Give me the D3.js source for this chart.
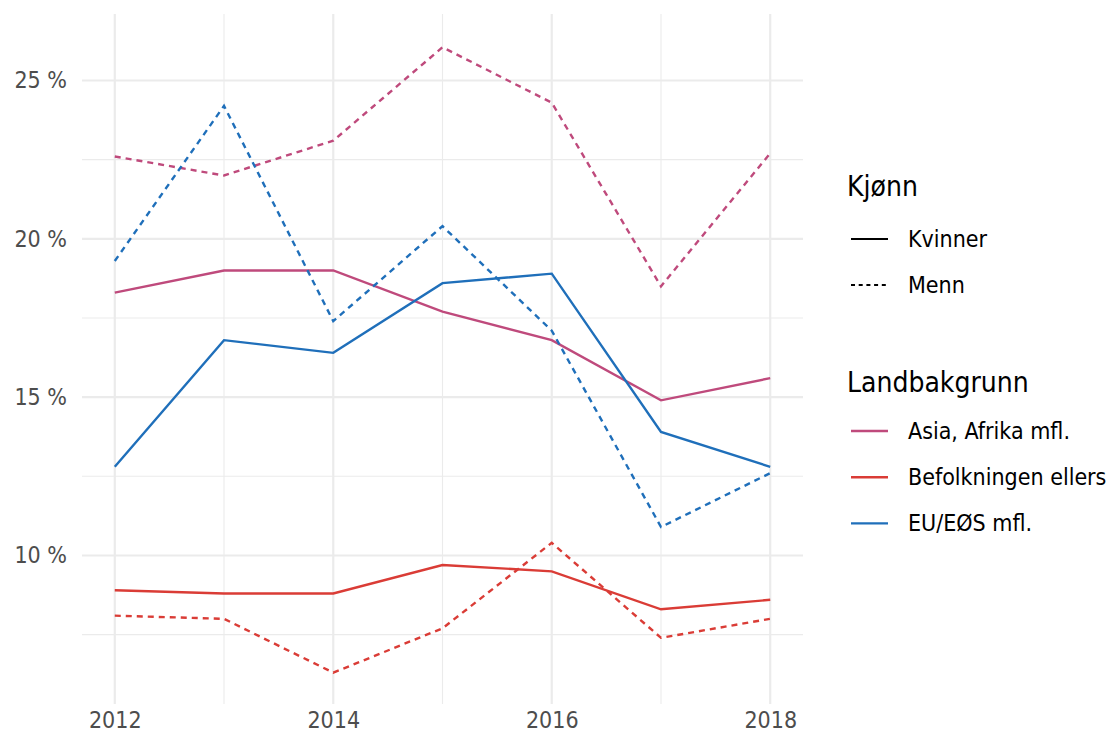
<!DOCTYPE html>
<html>
<head>
<meta charset="utf-8">
<script src="https://cdn.jsdelivr.net/npm/d3@7"></script>
<style>
  body { margin: 0; background: #fff; }
  text { font-family: "DejaVu Sans Condensed", "DejaVu Sans", Verdana, sans-serif; }
</style>
</head>
<body>
<script>
const years = [2012, 2013, 2014, 2015, 2016, 2017, 2018];

const asiaKvinner = [18.3, 19.0, 19.0, 17.7, 16.8, 14.9, 15.6];
const asiaMenn = [22.6, 22.0, 23.1, 26.05, 24.3, 18.5, 22.7];
const euKvinner = [12.8, 16.8, 16.4, 18.6, 18.9, 13.9, 12.8];
const euMenn = [19.3, 24.2, 17.4, 20.4, 17.1, 10.9, 12.6];
const befKvinner = [8.9, 8.8, 8.8, 9.7, 9.5, 8.3, 8.6];
const befMenn = [8.1, 8.0, 6.3, 7.7, 10.4, 7.4, 8.0];

const groups = ["Asia, Afrika mfl.", "Befolkningen ellers", "EU/EØS mfl."];
const colors = ["#bf4a7c", "#da3c36", "#1f6fba"];
const genders = ["Kvinner", "Menn"];

const xTicks = [2012, 2014, 2016, 2018];
const xMinor = [2013, 2015, 2017];
const yTicks = [10, 15, 20, 25];
const yMinor = [7.5, 12.5, 17.5, 22.5];

const series = [
  { group: groups[0], gender: genders[0], values: asiaKvinner },
  { group: groups[0], gender: genders[1], values: asiaMenn },
  { group: groups[1], gender: genders[0], values: befKvinner },
  { group: groups[1], gender: genders[1], values: befMenn },
  { group: groups[2], gender: genders[0], values: euKvinner },
  { group: groups[2], gender: genders[1], values: euMenn }
];

const width = 1106, height = 738;
const panel = { left: 82, right: 803, top: 14, bottom: 704 };
const font = "DejaVu Sans Condensed, DejaVu Sans, Verdana, sans-serif";

const svg = d3.select("body").append("svg")
    .attr("width", width)
    .attr("height", height);

const x = d3.scaleLinear().domain([2011.7, 2018.3]).range([panel.left, panel.right]);
const y = d3.scaleLinear().domain([5.31, 27.1]).range([panel.bottom, panel.top]);
const color = d3.scaleOrdinal().domain(groups).range(colors);
const dash = d3.scaleOrdinal().domain(genders).range([null, "6,5"]);

// grid
const grid = svg.append("g");
grid.selectAll(".ymin").data(yMinor).enter().append("line")
    .attr("x1", panel.left).attr("x2", panel.right)
    .attr("y1", d => y(d)).attr("y2", d => y(d))
    .attr("stroke", "#ebebeb").attr("stroke-width", 1.1);
grid.selectAll(".xmin").data(xMinor).enter().append("line")
    .attr("y1", panel.top).attr("y2", panel.bottom)
    .attr("x1", d => x(d)).attr("x2", d => x(d))
    .attr("stroke", "#ebebeb").attr("stroke-width", 1.1);
grid.selectAll(".ymaj").data(yTicks).enter().append("line")
    .attr("x1", panel.left).attr("x2", panel.right)
    .attr("y1", d => y(d)).attr("y2", d => y(d))
    .attr("stroke", "#ebebeb").attr("stroke-width", 2.2);
grid.selectAll(".xmaj").data(xTicks).enter().append("line")
    .attr("y1", panel.top).attr("y2", panel.bottom)
    .attr("x1", d => x(d)).attr("x2", d => x(d))
    .attr("stroke", "#ebebeb").attr("stroke-width", 2.2);

// axes labels
const yAxis = d3.axisLeft(y).tickValues(yTicks).tickSize(0).tickPadding(15)
    .tickFormat(d => d + " %");
svg.append("g")
    .attr("transform", `translate(${panel.left},0)`)
    .call(yAxis)
    .call(g => g.select(".domain").remove())
    .selectAll("text")
    .attr("font-size", 23).attr("fill", "#4d4d4d")
    .style("font-family", font);

const xAxis = d3.axisBottom(x).tickValues(xTicks).tickSize(0).tickPadding(8)
    .tickFormat(d3.format("d"));
svg.append("g")
    .attr("transform", `translate(0,${panel.bottom})`)
    .call(xAxis)
    .call(g => g.select(".domain").remove())
    .selectAll("text")
    .attr("font-size", 23).attr("fill", "#4d4d4d")
    .style("font-family", font);

// lines
const line = d3.line()
    .x((d, i) => x(years[i]))
    .y(d => y(d));

svg.append("g").selectAll("path").data(series).enter().append("path")
    .attr("d", d => line(d.values))
    .attr("fill", "none")
    .attr("stroke", d => color(d.group))
    .attr("stroke-width", 2.4)
    .attr("stroke-dasharray", d => dash(d.gender));

// legend
const legend = svg.append("g");
legend.append("text")
    .attr("x", 847).attr("y", 196)
    .attr("font-size", 28).attr("fill", "#000")
    .text("Kjønn");
const gLeg = legend.selectAll(".gl").data(genders).enter().append("g")
    .attr("transform", (d, i) => `translate(0,${239 + i * 46})`);
gLeg.append("line")
    .attr("x1", 851).attr("x2", 888).attr("y1", 0).attr("y2", 0)
    .attr("stroke", "#000").attr("stroke-width", 2.2)
    .attr("stroke-dasharray", d => d === "Menn" ? "4,3.7" : null);
gLeg.append("text")
    .attr("x", 908).attr("y", 8)
    .attr("font-size", 23).attr("fill", "#000")
    .text(d => d);

legend.append("text")
    .attr("x", 847).attr("y", 392)
    .attr("font-size", 28).attr("fill", "#000")
    .text("Landbakgrunn");
const cLeg = legend.selectAll(".cl").data(groups).enter().append("g")
    .attr("transform", (d, i) => `translate(0,${431 + i * 46.2})`);
cLeg.append("line")
    .attr("x1", 851).attr("x2", 888).attr("y1", 0).attr("y2", 0)
    .attr("stroke", d => color(d)).attr("stroke-width", 2.4);
cLeg.append("text")
    .attr("x", 908).attr("y", 8)
    .attr("font-size", 23).attr("fill", "#000")
    .text(d => d);
</script>
</body>
</html>
